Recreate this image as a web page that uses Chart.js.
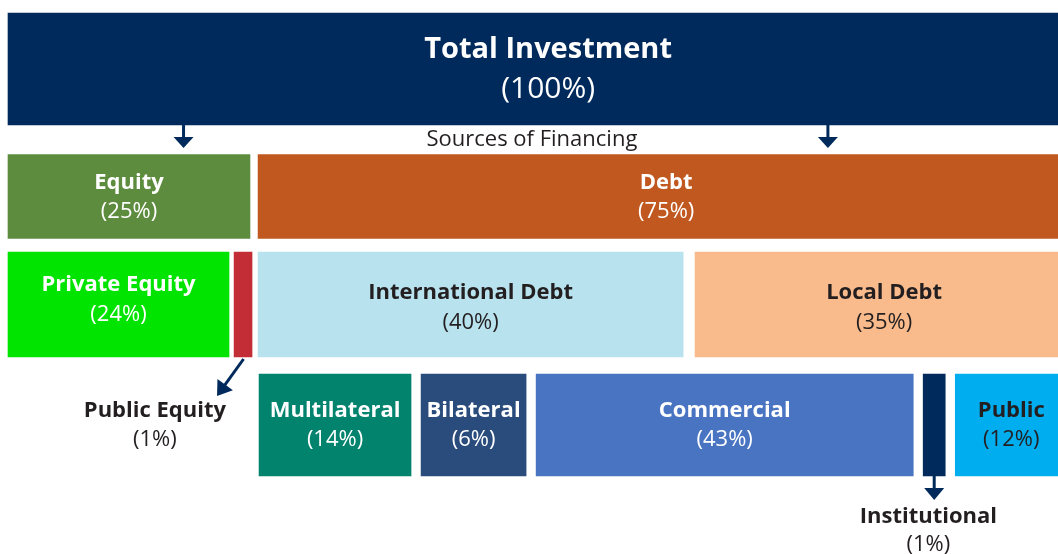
<!DOCTYPE html>
<html><head><meta charset="utf-8">
<script src="https://cdn.jsdelivr.net/npm/chart.js@4"></script>
<style>html,body{margin:0;padding:0;background:#fff;overflow:hidden}#wrap{width:1058px;height:554px;position:relative}</style>
</head><body><div id="wrap"><canvas id="c"></canvas></div>
<script>
// ---- data ----
const rows = ['Total', 'Source', 'Origin', 'Lender'];
const boxNames = ['Total Investment','Equity','Debt','Private Equity','Public Equity','International Debt','Local Debt','Multilateral','Bilateral','Commercial','Institutional','Public'];
const boxShares = [100,25,75,24,1,40,35,14,6,43,1,12];
const boxRows = ['Total','Source','Source','Origin','Origin','Origin','Origin','Lender','Lender','Lender','Lender','Lender'];
const boxStarts = [0,0,23.15,0,20.93,23.15,63.6,23.24,38.24,48.89,84.72,87.69];
const boxEnds = [100,22.4,98.7,20.46,22.59,62.5,98.6,37.31,47.96,83.8,86.76,98.06];
const subtitle = 'Sources of Financing';

// ---- styles ----
const boxColors = ['#002A5C','#5E8C3E','#C0581F','#00E400','#C32D35','#B8E2EE','#F9BA8C','#02836E','#2A4C7D','#4874C2','#002A5C','#00AEEF'];
const textColors = ['#fff','#fff','#fff','#fff','#231F20','#231F20','#231F20','#fff','#fff','#fff','#231F20','#231F20'];
const textShift = [0,0,0,-8,0,0,0,0,0,0,0,0];
const rowThickness = {Total:112, Source:84, Origin:105, Lender:102};
const rowWeight = {Total:138, Source:117, Origin:99, Lender:142};
const rowTextOffsets = {Total:[-19.5, 20.5], Source:[-14, 15], Origin:[-12, 18], Lender:[-14.5, 14.5]};
const outside = {
  'Public Equity': {labelX:13.6, labelDy:-14.5, arrowToX:19.35, arrowToDy:-29, below:false},
  'Institutional': {labelX:85.2, labelDy:40.5, below:true}
};
const NAVY = '#002A5C', DARK = '#231F20', FONT = '"Open Sans", sans-serif';

function drawArrow(ctx, x1, y1, x2, y2, lw, hl, hw) {
  const a = Math.atan2(y2 - y1, x2 - x1);
  const bx = x2 - hl * Math.cos(a), by = y2 - hl * Math.sin(a);
  ctx.strokeStyle = NAVY; ctx.fillStyle = NAVY; ctx.lineWidth = lw;
  ctx.beginPath(); ctx.moveTo(x1, y1); ctx.lineTo(x2 - (hl - 2) * Math.cos(a), y2 - (hl - 2) * Math.sin(a)); ctx.stroke();
  ctx.beginPath();
  ctx.moveTo(x2, y2);
  ctx.lineTo(bx + hw/2 * Math.sin(a), by - hw/2 * Math.cos(a));
  ctx.lineTo(bx - hw/2 * Math.sin(a), by + hw/2 * Math.cos(a));
  ctx.closePath(); ctx.fill();
}

const labelPlugin = {
  id: 'boxLabels',
  afterDatasetsDraw(chart) {
    const ctx = chart.ctx, xs = chart.scales.x;
    const geo = {};
    chart.data.datasets.forEach((ds, i) => {
      const el = chart.getDatasetMeta(i).data[0];
      const p = el.getProps(['x','base','y','height'], true);
      geo[ds.label] = {cx:(p.x+p.base)/2, cy:p.y, top:p.y-p.height/2, bottom:p.y+p.height/2};
    });
    ctx.save();
    ctx.textAlign = 'center'; ctx.textBaseline = 'middle';
    chart.data.datasets.forEach((ds, i) => {
      const g = geo[ds.label];
      const name = ds.label, share = '(' + ds.share + '%)';
      const big = ds.row === 'Total';
      const fsName = big ? 29 : 22, fsShare = big ? 30 : 22;
      let x = g.cx, yName, yShare;
      const o = outside[name];
      if (o) {
        const lower = geo[boxNames[boxRows.indexOf('Lender')]];
        x = xs.getPixelForValue(o.labelX);
        if (o.below) {
          yName = g.bottom + o.labelDy; yShare = yName + 28;
          drawArrow(ctx, g.cx, g.bottom - 1, g.cx, g.bottom + 24, 3, 12, 20);
        } else {
          yName = lower.cy + o.labelDy; yShare = yName + 29;
          drawArrow(ctx, g.cx + 0.5, g.bottom + 2, xs.getPixelForValue(o.arrowToX), lower.cy + o.arrowToDy, 3, 14, 19);
        }
        ctx.fillStyle = DARK;
      } else {
        const off = rowTextOffsets[ds.row];
        yName = g.cy + off[0] + ds.textShift;
        yShare = g.cy + off[1] + ds.textShift;
        ctx.fillStyle = ds.textColor;
      }
      ctx.font = 'bold ' + fsName + 'px ' + FONT;
      ctx.fillText(name, x, yName);
      ctx.font = fsShare + 'px ' + FONT;
      ctx.fillText(share, x, yShare);
    });
    const t = geo['Total Investment'], s = geo['Equity'];
    [16.25, 75.9].forEach(u => {
      const px = xs.getPixelForValue(u);
      drawArrow(ctx, px, t.bottom - 1, px, s.top - 6.5, 3, 11, 20);
    });
    ctx.fillStyle = DARK;
    ctx.font = '22px ' + FONT;
    ctx.fillText(subtitle, xs.getPixelForValue(48.5), (t.bottom + s.top) / 2);
    ctx.restore();
  }
};

const datasets = boxNames.map((n, i) => ({
  label: n,
  share: boxShares[i],
  row: boxRows[i],
  yAxisID: 'y' + boxRows[i],
  data: [{y: boxRows[i], x: [boxStarts[i], boxEnds[i]]}],
  backgroundColor: boxColors[i],
  textColor: textColors[i],
  textShift: textShift[i],
  borderWidth: 0,
  borderSkipped: false,
  grouped: false,
  clip: false,
  barThickness: rowThickness[boxRows[i]]
}));

// one stacked category axis per row (stack is filled bottom-up, so add rows in reverse)
const scales = {x: {type: 'linear', min: 0, max: 97.2, display: false}};
rows.slice().reverse().forEach(r => {
  scales['y' + r] = {type: 'category', labels: [r], display: false, offset: true, position: 'left', stack: 'rows', stackWeight: rowWeight[r]};
});

new Chart(document.getElementById('c'), {
  type: 'bar',
  data: {labels: rows, datasets},
  options: {
    indexAxis: 'y',
    responsive: true,
    maintainAspectRatio: false,
    animation: false,
    layout: {padding: {left: 8, right: 0, top: 0, bottom: 58}},
    scales,
    plugins: {legend: {display: false}, tooltip: {enabled: false}, title: {display: false}}
  },
  plugins: [labelPlugin]
});
</script></body></html>
